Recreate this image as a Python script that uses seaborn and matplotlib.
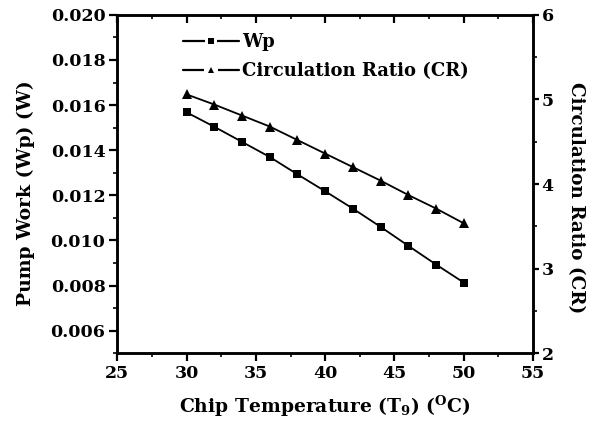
import matplotlib
matplotlib.use("Agg")
import matplotlib.pyplot as plt
import seaborn as sns
import pandas as pd
from matplotlib.lines import Line2D
from matplotlib.legend_handler import HandlerTuple
from matplotlib.ticker import MultipleLocator, AutoMinorLocator

# Chip temperature sweep and the two responses
temperature = [30, 32, 34, 36, 38, 40, 42, 44, 46, 48, 50]
pump_work = [0.01568, 0.01504, 0.01437, 0.01370, 0.01293, 0.01218,
             0.01141, 0.01060, 0.00976, 0.00893, 0.00813]
circ_ratio = [5.06, 4.94, 4.81, 4.68, 4.52, 4.36, 4.20, 4.04, 3.87, 3.71, 3.535]
series_names = ["Wp", "Circulation Ratio (CR)"]

df = pd.DataFrame({"T": temperature, "Wp": pump_work, "CR": circ_ratio})

sns.set_theme(style="ticks")
plt.rcParams["font.family"] = ["DejaVu Serif"]
plt.rcParams["font.weight"] = "bold"
plt.rcParams["text.color"] = "black"
plt.rcParams["axes.labelcolor"] = "black"
plt.rcParams["mathtext.fontset"] = "dejavuserif"
plt.rcParams["mathtext.default"] = "bf"

fig = plt.figure(figsize=(5.95, 4.25), dpi=100)
ax = fig.add_axes([0.197, 0.169, 0.699, 0.796])
ax2 = ax.twinx()

sns.lineplot(data=df, x="T", y="Wp", ax=ax, color="black", lw=1.3,
             marker="s", markersize=5.5, markeredgewidth=0, legend=False)
sns.lineplot(data=df, x="T", y="CR", ax=ax2, color="black", lw=1.3,
             marker="^", markersize=6.5, markeredgewidth=0, legend=False)

ax.set_xlim(25, 55)
ax.set_ylim(0.005, 0.020)
ax2.set_ylim(2, 6)

ax.xaxis.set_major_locator(MultipleLocator(5))
ax.xaxis.set_minor_locator(AutoMinorLocator(2))
ax.yaxis.set_major_locator(MultipleLocator(0.002))
ax.yaxis.set_minor_locator(AutoMinorLocator(2))
ax2.yaxis.set_major_locator(MultipleLocator(1))
ax2.yaxis.set_minor_locator(AutoMinorLocator(2))
ax.yaxis.set_major_formatter(plt.FuncFormatter(lambda v, p: f"{v:.3f}"))

for a in (ax, ax2):
    for s in a.spines.values():
        s.set_linewidth(1.8)
        s.set_color("black")
        s.set_visible(True)

ax.tick_params(axis="both", which="major", direction="out", length=5.5, width=1.6,
               labelsize=12.5, colors="black", pad=3)
ax.tick_params(axis="both", which="minor", direction="out", length=3, width=1.4)
ax.tick_params(axis="x", which="both", top=True)
ax2.tick_params(axis="y", which="major", direction="out", length=4, width=1.6,
                labelsize=12.5, colors="black", pad=2)
ax2.tick_params(axis="y", which="minor", direction="out", length=3, width=1.4)

# top ticks point inward
for t in ax.xaxis.get_major_ticks() + ax.xaxis.get_minor_ticks():
    t.tick2line.set_marker(matplotlib.lines.TICKDOWN)

for lab in ax.get_xticklabels() + ax.get_yticklabels() + ax2.get_yticklabels():
    lab.set_fontweight("bold")

ax.set_xlabel(r"Chip Temperature (T$_9$) ($^{O}$C)", fontsize=13.5, fontweight="bold")
ax.set_ylabel("Pump Work (Wp) (W)", fontsize=13.5, fontweight="bold")
ax2.set_ylabel("Circulation Ratio (CR)", fontsize=13.2, fontweight="bold", rotation=270)
ax.xaxis.label.set_va("center")
ax.yaxis.label.set_va("center")
ax2.yaxis.label.set_va("center")
ax.xaxis.set_label_coords(0.5, -0.158)
ax.yaxis.set_label_coords(-0.219, 0.472)
ax2.yaxis.set_label_coords(1.103, 0.46)

# legend keys: line broken around a small marker
def legend_key(shape, size):
    gap = Line2D([], [], color="black", lw=1.6, marker="s", markersize=size + 5,
                 markerfacecolor="white", markeredgewidth=0)
    mark = Line2D([], [], linestyle="none", marker=shape, markersize=size,
                  markerfacecolor="black", markeredgewidth=0)
    return (gap, mark)

handles = [legend_key("s", 4), legend_key("^", 5)]
leg = ax.legend(handles, series_names, loc="upper left", bbox_to_anchor=(0.133, 0.978),
                frameon=False, fontsize=13, handlelength=3.1, handletextpad=0.15,
                labelspacing=0.62, borderaxespad=0.2, numpoints=1,
                handler_map={tuple: HandlerTuple(ndivide=1, pad=0)})
for t in leg.get_texts():
    t.set_fontweight("bold")

fig.savefig("out.png", dpi=100)
